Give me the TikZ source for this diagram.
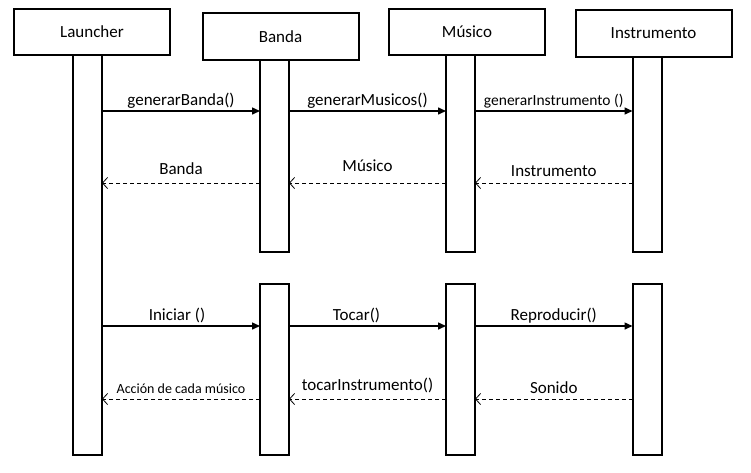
\documentclass[tikz,border=0pt]{standalone}
\usepackage{fontspec}
\setmainfont{Carlito}
\usetikzlibrary{arrows.meta}

\begin{document}
\begin{tikzpicture}[x=1pt, y=-1pt,
      head/.style={draw, fill=white, line width=2pt, minimum width=156pt, minimum height=46pt,
                   inner sep=0pt, font=\fontsize{17}{20}\selectfont},
      bar/.style={draw, fill=white, line width=2pt, minimum width=29pt,
                  inner sep=0pt, outer sep=0pt},
      msg/.style={-{Triangle[length=8pt,width=7pt]}, line width=1.5pt},
      ret/.style={-{Straight Barb[length=5pt,width=11pt]}, dash pattern=on 4pt off 3pt,
                  line width=0.8pt},
      lbl/.style={font=\fontsize{17}{20}\selectfont, inner sep=1pt, text height=12pt,
                  text depth=4pt}
    ]
    \useasboundingbox (0,0) rectangle (751,472);
    % lifelines
    \node[bar, minimum height=400pt] (launcherbar) at (87.5,255) {};
    \node[bar, minimum height=192pt] (banda1) at (274.5,156) {};
    \node[bar, minimum height=171pt] (banda2) at (274.5,369.5) {};
    \node[bar, minimum height=197pt] (musico1) at (460.5,153.5) {};
    \node[bar, minimum height=171pt] (musico2) at (460.5,369.5) {};
    \node[bar, minimum height=195pt] (instr1) at (647,154.5) {};
    \node[bar, minimum height=171pt] (instr2) at (647,369.5) {};
    % heads
    \node[head] (launcher) at (92,32) {Launcher};
    \node[head, minimum height=47pt] (banda) at (280.5,36.5) {Banda};
    \node[head] (musico) at (467,32) {Músico};
    \node[head, minimum height=47pt] (instr) at (653.5,33) {Instrumento};
    % rows
    \coordinate (r1) at (0,111);
    \coordinate (r2) at (0,183);
    \coordinate (r3) at (0,326);
    \coordinate (r4) at (0,399);
    % creation
    \draw[msg] (launcherbar.east |- r1) -- (banda1.west |- r1)
      node[midway, above, lbl] {generarBanda()};
    \draw[msg] (banda1.east |- r1) -- (musico1.west |- r1)
      node[midway, above, lbl] {generarMusicos()};
    \draw[msg] (musico1.east |- r1) -- (instr1.west |- r1)
      node[midway, above, lbl, font=\fontsize{15.5}{18}\selectfont] {generarInstrumento ()};
    \draw[ret] (banda1.west |- r2) -- (launcherbar.east |- r2)
      node[midway, above=3pt, lbl] {Banda};
    \draw[ret] (musico1.west |- r2) -- (banda1.east |- r2)
      node[midway, above=6pt, lbl] {Músico};
    \draw[ret] (instr1.west |- r2) -- (musico1.east |- r2)
      node[midway, above=1pt, lbl] {Instrumento};
    % playing
    \draw[msg] (launcherbar.east |- r3) -- (banda2.west |- r3)
      node[midway, above, lbl, xshift=-4pt] {Iniciar ()};
    \draw[msg] (banda2.east |- r3) -- (musico2.west |- r3)
      node[midway, above, lbl, xshift=-11pt] {Tocar()};
    \draw[msg] (musico2.east |- r3) -- (instr2.west |- r3)
      node[midway, above, lbl] {Reproducir()};
    \draw[ret] (banda2.west |- r4) -- (launcherbar.east |- r4)
      node[midway, above, lbl, font=\fontsize{14}{16}\selectfont] {Acción de cada músico};
    \draw[ret] (musico2.west |- r4) -- (banda2.east |- r4)
      node[midway, above=3pt, lbl] {tocarInstrumento()};
    \draw[ret] (instr2.west |- r4) -- (musico2.east |- r4)
      node[midway, above, lbl] {Sonido};
  \end{tikzpicture}
\end{document}
